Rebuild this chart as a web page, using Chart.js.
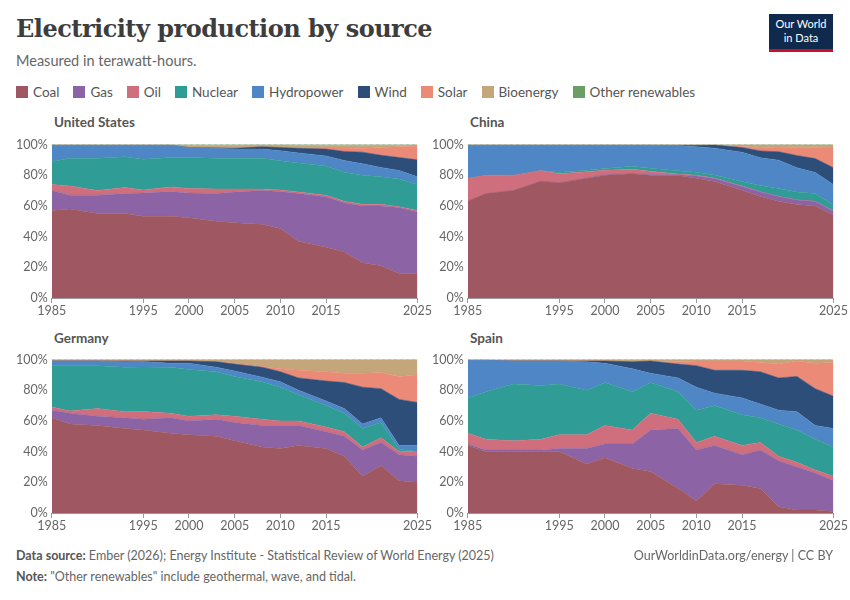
<!DOCTYPE html>
<html lang="en">
<head>
  <meta charset="UTF-8">
  <title>Electricity production by source</title>
  <style>
    body { margin: 0; width: 850px; height: 600px; background: #fff; font-family: Lato, sans-serif; color: #5b5b5b; position: relative; overflow: hidden; }
    h1 { position: absolute; left: 16px; top: 14px; margin: 0; font-family: 'DejaVu Serif', serif; font-size: 24px; color: #3d3d3d; font-weight: bold; letter-spacing: -0.5px; }
    .sub { position: absolute; left: 16px; top: 52px; font-size: 14.5px; color: #666; }
    .logo { position: absolute; left: 769px; top: 14px; width: 64px; height: 38px; background: #0f2a4d; border-bottom: 3px solid #c8102e; color: #fff; font-size: 11px; text-align: center; line-height: 14px; padding-top: 3px; box-sizing: border-box; }
    .legend { position: absolute; left: 16px; top: 84px; font-size: 13.5px; color: #555; display: flex; }
    .legend span { display: flex; align-items: center; margin-right: 14px; }
    .legend i { width: 12px; height: 12px; margin-right: 5px; display: inline-block; }
    .ptitle { position: absolute; font-size: 13.5px; font-weight: bold; color: #555; }
    .box { position: absolute; width: 420px; height: 185px; }
    .foot { position: absolute; left: 16px; font-size: 12.5px; color: #666; }
    .foot b { color: #555; }
  </style>
  <script src="https://cdn.jsdelivr.net/npm/chart.js"></script>
</head>
<body>
  <h1>Electricity production by source</h1>
  <div class="sub">Measured in terawatt-hours.</div>
  <div class="logo">Our World<br>in Data</div>
  <div class="legend" id="legend"></div>

  <div class="ptitle" style="left:54px;top:114px">United States</div>
  <div class="ptitle" style="left:470px;top:114px">China</div>
  <div class="ptitle" style="left:54px;top:330px">Germany</div>
  <div class="ptitle" style="left:470px;top:330px">Spain</div>
  <div class="box" style="left:12px;top:133px"><canvas id="us"></canvas></div>
  <div class="box" style="left:428px;top:133px"><canvas id="cn"></canvas></div>
  <div class="box" style="left:12px;top:348px"><canvas id="de"></canvas></div>
  <div class="box" style="left:428px;top:348px"><canvas id="es"></canvas></div>

  <div class="foot" style="top:548px"><b>Data source:</b> Ember (2026); Energy Institute - Statistical Review of World Energy (2025)</div>
  <div class="foot" style="top:548px;left:auto;right:17px">OurWorldinData.org/energy | CC BY</div>
  <div class="foot" style="top:569px"><b>Note:</b> "Other renewables" include geothermal, wave, and tidal.</div>

  <script>
    const years = [1985, 1987, 1990, 1993, 1995, 1998, 2000, 2003, 2005, 2008, 2010, 2012, 2015, 2017, 2019, 2021, 2023, 2025];
    const xTicks = [1985, 1995, 2000, 2005, 2010, 2015, 2025];
    const sources = ['Coal', 'Gas', 'Oil', 'Nuclear', 'Hydropower', 'Wind', 'Solar', 'Bioenergy', 'Other renewables'];
    const colors = ['#9f5861', '#8c64a6', '#cf6f7e', '#2f9d95', '#4f86c6', '#2d4e78', '#ec8a78', '#c5a57a', '#6b9e64'];

    // shares in percent
    const usCoal = [57, 58, 55, 55, 53, 53, 52, 50, 49, 48, 45, 37, 33, 30, 23, 21, 16, 16];
    const usGas = [13, 9, 12, 13, 15, 16, 16, 18, 20, 22, 24, 31, 33, 32, 37, 39, 43, 40];
    const usOil = [4, 6, 3, 4, 2, 3, 3, 3, 2, 1, 1, 1, 1, 1, 1, 1, 0.5, 1];
    const usNuclear = [15, 18, 21, 20, 20, 19, 20, 20, 20, 20, 19, 19, 19, 19, 19, 18, 18, 17];
    const usHydro = [10.5, 8.5, 8.5, 7.5, 9, 8, 6.5, 6.5, 6, 6, 6.5, 6.5, 6.5, 7.5, 7.5, 6, 5.5, 5];
    const usWind = [0, 0, 0, 0, 0, 0, 0, 0.3, 0.5, 1.5, 2, 3, 4.5, 6, 7.5, 8, 8.5, 11];
    const usSolar = [0, 0, 0, 0, 0, 0, 0, 0, 0, 0, 0, 0.3, 0.8, 2.2, 2.5, 5, 7, 9];
    const usBio = [0.3, 0.3, 0.3, 0.3, 0.3, 0.3, 1.5, 1.7, 2, 1.1, 1.6, 1.7, 1.7, 1.8, 2, 1.5, 1, 0.7];
    const usOther = [0.2, 0.2, 0.2, 0.2, 0.2, 0.2, 0.5, 0.5, 0.5, 0.4, 0.4, 0.5, 0.5, 0.5, 0.5, 0.5, 0.5, 0.3];

    const cnCoal = [63, 68, 70, 76, 75, 78, 80, 81, 80, 80, 78, 76, 70, 66, 63, 61, 60, 54];
    const cnGas = [0, 0, 0, 0, 0, 0.3, 0.3, 0.3, 0.5, 0.5, 1.5, 2, 2.5, 3, 3, 3, 3, 2.5];
    const cnOil = [15, 12, 10, 7, 6, 4, 3, 2.5, 2, 0.5, 0.5, 0.3, 0.2, 0.2, 0.2, 0.2, 0.2, 0.3];
    const cnNuclear = [0, 0, 0, 0, 1, 1, 1, 2, 2, 2, 2, 2, 3, 4, 5, 5, 5, 4];
    const cnHydro = [21.5, 19.5, 19.5, 16.5, 17.5, 16.2, 15.2, 13.7, 15, 16.5, 16.5, 17.5, 19, 18, 18.5, 15.8, 13.8, 13];
    const cnWind = [0, 0, 0, 0, 0, 0, 0, 0, 0, 0.2, 1, 2, 3, 4.5, 5.5, 8, 9, 11];
    const cnSolar = [0, 0, 0, 0, 0, 0, 0, 0, 0, 0, 0, 0, 0.8, 2, 3, 5, 7, 13];
    const cnBio = [0.3, 0.3, 0.3, 0.3, 0.3, 0.3, 0.3, 0.3, 0.3, 0.3, 0.3, 0.2, 1, 2, 1.5, 2, 2, 2];
    const cnOther = [0.2, 0.2, 0.2, 0.2, 0.2, 0.2, 0.2, 0.2, 0.2, 0.2, 0.2, 0.2, 0.2, 0.2, 0.2, 0.2, 0.2, 0.2];

    const deCoal = [62, 58, 57, 55, 54, 52, 51, 50, 47, 43, 42, 44, 42, 37, 24, 31, 21, 20];
    const deGas = [5, 7, 6, 7, 7, 10, 9, 11, 12, 14, 15, 13, 11, 13, 17, 15, 17, 17];
    const deOil = [2, 1.5, 5, 4, 5, 3, 3, 3, 4, 4, 3, 3, 3, 3, 2, 3, 2, 3];
    const deNuclear = [27, 29.5, 28, 29, 29, 30, 30.5, 28, 26, 24.5, 22, 17, 14, 12, 12, 10, 1.5, 0];
    const deHydro = [3, 3, 3, 3.5, 3.5, 2.5, 4, 3, 3.5, 3, 3.5, 3, 3, 3, 3, 3, 2.5, 4];
    const deWind = [0, 0, 0, 0.5, 0.3, 1.5, 1.5, 3.5, 4.5, 6.5, 6.5, 8, 13, 17, 24, 19, 30, 28];
    const deSolar = [0, 0, 0, 0, 0, 0, 0, 0, 0.5, 0.5, 2, 5, 6, 6, 9, 10.5, 15, 18];
    const deBio = [0.7, 0.7, 0.7, 0.7, 0.7, 0.7, 0.7, 1.2, 2.2, 4.2, 5.7, 6.7, 7.7, 8.7, 8.7, 8.2, 10.7, 9.7];
    const deOther = [0.3, 0.3, 0.3, 0.3, 0.3, 0.3, 0.3, 0.3, 0.3, 0.3, 0.3, 0.3, 0.3, 0.3, 0.3, 0.3, 0.3, 0.3];

    const esCoal = [44, 40, 40, 40, 40, 32, 36, 29, 27, 16, 8, 19, 18, 16, 4, 2, 2, 1];
    const esGas = [1, 1, 1, 1, 2, 10, 9, 16, 27, 39, 33, 25, 20, 25, 30, 28, 24, 20];
    const esOil = [7, 7, 6, 7, 9, 9, 12, 9, 11, 6, 5, 6, 6, 5, 3, 3, 2, 3];
    const esNuclear = [23, 31, 37, 35, 33, 29, 28, 25, 20, 18, 21, 20, 20, 16, 21, 21, 20, 19];
    const esHydro = [24.5, 20.5, 15, 16, 15, 18.5, 12.5, 15, 6, 9, 15, 8, 11, 9, 9, 12, 9, 12];
    const esWind = [0, 0, 0, 0, 0, 0.5, 1.5, 4.5, 8, 9, 14, 15, 18, 21, 21, 23, 24, 21];
    const esSolar = [0, 0, 0, 0, 0, 0, 0, 0, 0, 1.5, 3, 6, 6, 6, 9, 10, 16.5, 22];
    const esBio = [0.3, 0.3, 0.6, 0.6, 0.7, 0.7, 0.7, 1.2, 0.7, 1.2, 0.7, 0.7, 0.7, 1.7, 2.7, 0.7, 2.2, 1.7];
    const esOther = [0.2, 0.2, 0.4, 0.4, 0.3, 0.3, 0.3, 0.3, 0.3, 0.3, 0.3, 0.3, 0.3, 0.3, 0.3, 0.3, 0.3, 0.3];

    const countries = {
      us: [usCoal, usGas, usOil, usNuclear, usHydro, usWind, usSolar, usBio, usOther],
      cn: [cnCoal, cnGas, cnOil, cnNuclear, cnHydro, cnWind, cnSolar, cnBio, cnOther],
      de: [deCoal, deGas, deOil, deNuclear, deHydro, deWind, deSolar, deBio, deOther],
      es: [esCoal, esGas, esOil, esNuclear, esHydro, esWind, esSolar, esBio, esOther]
    };

    // legend
    const legend = document.getElementById('legend');
    sources.forEach((s, i) => {
      legend.innerHTML += `<span><i style="background:${colors[i]}"></i>${s}</span>`;
    });

    Chart.defaults.font.family = 'Lato, sans-serif';
    Chart.defaults.color = '#666';

    for (const id in countries) {
      const series = countries[id];
      // scale each year so the shares add up to exactly 100%
      const totals = years.map((_, j) => series.reduce((a, s) => a + s[j], 0));
      const datasets = series.map((s, i) => ({
        label: sources[i],
        data: years.map((y, j) => ({ x: y, y: s[j] / totals[j] * 100 })),
        backgroundColor: colors[i],
        borderColor: colors[i],
        borderWidth: 0.5,
        pointRadius: 0,
        fill: i === 0 ? 'origin' : '-1',
        tension: 0
      }));
      new Chart(document.getElementById(id), {
        type: 'line',
        data: { datasets },
        options: {
          responsive: true,
          maintainAspectRatio: false,
          animation: false,
          layout: { padding: { right: 10, left: 0 } },
          plugins: { legend: { display: false }, tooltip: { enabled: false } },
          scales: {
            x: {
              type: 'linear', min: 1985, max: 2025,
              afterBuildTicks: axis => { axis.ticks = xTicks.map(v => ({ value: v })); },
              ticks: { callback: v => v, font: { size: 12.5 }, maxRotation: 0, autoSkip: false, padding: 0 },
              grid: { display: true, drawOnChartArea: false, tickLength: 5, color: '#999' },
              border: { color: '#999' }
            },
            y: {
              stacked: true, min: 0, max: 100,
              ticks: { stepSize: 20, callback: v => v + '%', font: { size: 12.5 }, padding: 4 },
              grid: { color: 'rgba(0,0,0,0.12)', drawTicks: false },
              border: { display: false, dash: [3, 3] }
            }
          }
        }
      });
    }
  </script>
</body>
</html>
